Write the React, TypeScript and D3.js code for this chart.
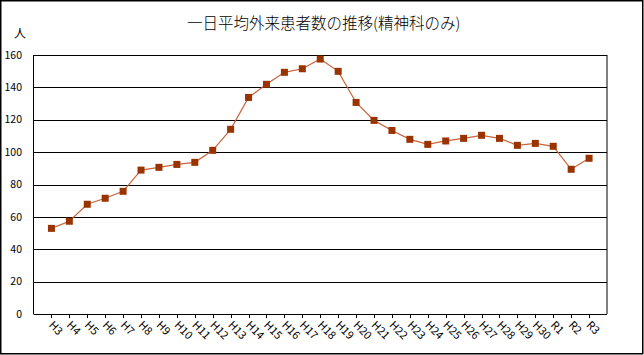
import React from "react";
import * as d3 from "d3";

const categories = ["H3","H4","H5","H6","H7","H8","H9","H10","H11","H12","H13","H14","H15","H16","H17","H18","H19","H20","H21","H22","H23","H24","H25","H26","H27","H28","H29","H30","R1","R2","R3"];
const values = [52.9,57.3,67.8,71.5,75.8,88.9,90.6,92.4,93.7,101.1,114.1,133.8,141.9,149.3,151.5,157.5,149.9,130.7,119.6,113.4,107.9,104.8,106.9,108.5,110.4,108.5,104.2,105.4,103.6,89.4,96.2];
const yTicks = [0,20,40,60,80,100,120,140,160];
const title = "一日平均外来患者数の推移(精神科のみ)";
const unitLabel = "人";

const W = 644, H = 355;
const L = 33.5, R = 607, T = 55, B = 314;

export default function App() {
  const x = d3.scalePoint<string>().domain(categories).range([L, R]).padding(1);
  const y = d3.scaleLinear().domain([0, 160]).range([B, T]);
  const line = d3.line<number>().x((_, i) => x(categories[i])!).y(d => y(d));
  const font = "'Noto Sans CJK JP', 'DejaVu Sans', sans-serif";
  return (
    <svg width={W} height={H} style={{ position: "absolute", left: 0, top: 0, background: "#fff" }} fontFamily={font}>
      <rect x={0.75} y={0.75} width={W - 2} height={H - 2} fill="#fff" stroke="#000" strokeWidth={1.5} />
      <text x={187} y={29} fontSize={15.5} fill="#000" fontWeight={300}>{title}</text>
      <text x={14} y={38} fontSize={12} fill="#000">{unitLabel}</text>
      {yTicks.map(t => (
        <g key={t}>
          <line x1={L} x2={R} y1={Math.round(y(t)) + 0.5} y2={Math.round(y(t)) + 0.5} stroke="#000" strokeWidth={1} />
          <text x={22} y={y(t)} dy="0.35em" fontSize={10.5} textAnchor="end" fill="#000">{t}</text>
        </g>
      ))}
      <line x1={L} x2={L} y1={T} y2={B} stroke="#000" strokeWidth={1} />
      <line x1={R} x2={R} y1={T} y2={B} stroke="#000" strokeWidth={1} />
      {categories.map(c => (
        <g key={c}>
          <line x1={Math.round(x(c)!) + 0.5} x2={Math.round(x(c)!) + 0.5} y1={B} y2={B + 4} stroke="#000" />
          <text transform={`translate(${x(c)! - 0.5},${B + 9}) rotate(45)`} dy="0.35em" fontSize={11} fill="#000">{c}</text>
        </g>
      ))}
      <path d={line(values)!} fill="none" stroke="#c8643c" strokeWidth={1.2} />
      {values.map((v, i) => (
        <rect key={i} x={x(categories[i])! - 3.5} y={y(v) - 3.5} width={7} height={7} fill="#993300" />
      ))}
    </svg>
  );
}
